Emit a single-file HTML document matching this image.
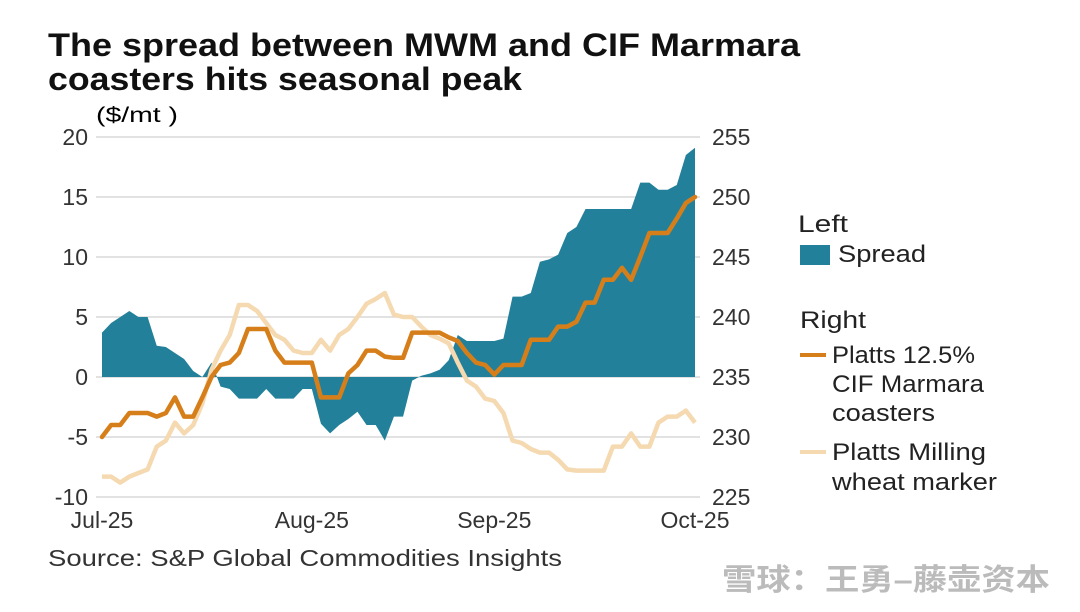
<!DOCTYPE html>
<html><head><meta charset="utf-8"><style>
body{margin:0;background:#fff;width:1080px;height:612px;overflow:hidden;font-family:"Liberation Sans","Noto Sans CJK SC",sans-serif;color:#222}
svg{position:absolute;left:0;top:0}
</style></head><body>
<svg width="1080" height="612">
<g font-weight="bold" font-size="32" fill="#111">
<text x="48" y="56" textLength="752" lengthAdjust="spacingAndGlyphs">The spread between MWM and CIF Marmara</text>
<text x="48" y="90" textLength="474" lengthAdjust="spacingAndGlyphs">coasters hits seasonal peak</text></g>
<text x="96" y="122" font-size="21" textLength="82" lengthAdjust="spacingAndGlyphs">($/mt )</text>
<g id="grid"></g>
<g id="area"></g>
<g id="lines"></g>
<g id="ticks" font-size="23" fill="#333"></g>
<text x="48" y="566" font-size="23" fill="#333" textLength="514" lengthAdjust="spacingAndGlyphs">Source: S&amp;P Global Commodities Insights</text>
<g font-size="24" fill="#222">
<text x="798" y="232" textLength="50" lengthAdjust="spacingAndGlyphs">Left</text>
<rect x="800" y="245" width="30" height="20" fill="#23809a"/>
<text x="838" y="262" textLength="88" lengthAdjust="spacingAndGlyphs">Spread</text>
<text x="800" y="328" textLength="66" lengthAdjust="spacingAndGlyphs">Right</text>
<line x1="800" y1="355" x2="826" y2="355" stroke="#d67f1a" stroke-width="4"/>
<text x="832" y="363" textLength="143" lengthAdjust="spacingAndGlyphs">Platts 12.5%</text>
<text x="832" y="392" textLength="152" lengthAdjust="spacingAndGlyphs">CIF Marmara</text>
<text x="832" y="421" textLength="103" lengthAdjust="spacingAndGlyphs">coasters</text>
<line x1="800" y1="452" x2="826" y2="452" stroke="#f5d9b0" stroke-width="4"/>
<text x="832" y="460" textLength="154" lengthAdjust="spacingAndGlyphs">Platts Milling</text>
<text x="832" y="490" textLength="165" lengthAdjust="spacingAndGlyphs">wheat marker</text>
</g>
<text x="722" y="590" font-size="30" fill="#bbb" font-weight="bold" textLength="328" lengthAdjust="spacingAndGlyphs">雪球：王勇–藤壶资本</text>
</svg>
<script>
const spread=[3.7,4.5,5.0,5.5,5.0,5.0,2.6,2.5,2.0,1.5,0.5,0,1.2,-0.8,-1,-1.8,-1.8,-1.8,-1,-1.8,-1.8,-1.8,-1,-1,-3.9,-4.7,-4,-3.5,-2.9,-4,-4,-5.3,-3.3,-3.3,-0.3,0.1,0.3,0.6,1.4,3.5,3,3,3,3,3.2,6.7,6.7,7,9.6,9.8,10.2,12,12.5,14,14,14,14,14,14,16.2,16.2,15.6,15.6,16,18.5,19.1];
const cif=[230,231,231,232,232,232,231.7,232,233.3,231.7,231.7,233.3,235,236,236.2,237,239,239,239,237.2,236.2,236.2,236.2,236.2,233.3,233.3,233.3,235.3,236,237.2,237.2,236.7,236.6,236.6,238.7,238.7,238.7,238.7,238.3,238,237,236.2,236,235.2,236,236,236,238.1,238.1,238.1,239.2,239.2,239.6,241.2,241.2,243.1,243.1,244.1,243.1,245,247,247,247,248.2,249.5,250];
const wheat=[226.7,226.7,226.2,226.7,227,227.3,229.2,229.7,231.2,230.3,231,232.8,235.6,237.2,238.5,241,241,240.5,239.5,238.5,238.1,237.2,237,237,238.1,237.2,238.5,239,240,241.1,241.5,242,240.2,240,240,239.2,238.5,238.2,237.8,236.2,234.7,234.2,233.2,233,232,229.7,229.5,229,228.7,228.7,228.1,227.3,227.2,227.2,227.2,227.2,229.2,229.2,230.3,229.2,229.2,231.2,231.7,231.7,232.2,231.2];
const leftTicks=[20,15,10,5,0,-5,-10];
const rightTicks=[255,250,245,240,235,230,225];
const xLabels=["Jul-25","Aug-25","Sep-25","Oct-25"];
const xLabelIdx=[0,23,43,65];
const NS="http://www.w3.org/2000/svg";
const X=i=>102+i*(695-102)/(spread.length-1);
const YL=v=>377-(v)*12;
const YR=v=>377-(v-235)*12;
function mk(t,a,p){const e=document.createElementNS(NS,t);for(const k in a)e.setAttribute(k,a[k]);p.appendChild(e);return e;}
const grid=document.getElementById('grid'),ticks=document.getElementById('ticks');
leftTicks.forEach((v,i)=>{
 const l=mk('line',{x1:96,x2:700,y1:YL(v),y2:YL(v),stroke:'#d8d8d8','stroke-width':1.5},grid);
 
 
 const t=mk('text',{x:88,y:YL(v)+8,'text-anchor':'end'},ticks);t.textContent=v;
 
 
 const r=mk('text',{x:712,y:YR(rightTicks[i])+8},ticks);r.textContent=rightTicks[i];
 
 
});
xLabels.forEach((s,i)=>{
 const t=mk('text',{x:X(xLabelIdx[i]),y:528,'text-anchor':'middle'},ticks);t.textContent=s;
 
 
});
let d='M'+X(0)+','+YL(0);
spread.forEach((v,i)=>d+=' L'+X(i)+','+YL(v));
d+=' L'+X(spread.length-1)+','+YL(0)+' Z';
const a=mk('path',{d:d,fill:'#23809a'},document.getElementById('area'));


const lines=document.getElementById('lines');
const w=mk('polyline',{points:wheat.map((v,i)=>X(i)+','+YR(v)).join(' '),fill:'none',stroke:'#f5d9b0','stroke-width':4.5,'stroke-linejoin':'round'},lines);


const c=mk('polyline',{points:cif.map((v,i)=>X(i)+','+YR(v)).join(' '),fill:'none',stroke:'#d67f1a','stroke-width':4.5,'stroke-linejoin':'round','stroke-linecap':'round'},lines);


</script>
</body></html>
